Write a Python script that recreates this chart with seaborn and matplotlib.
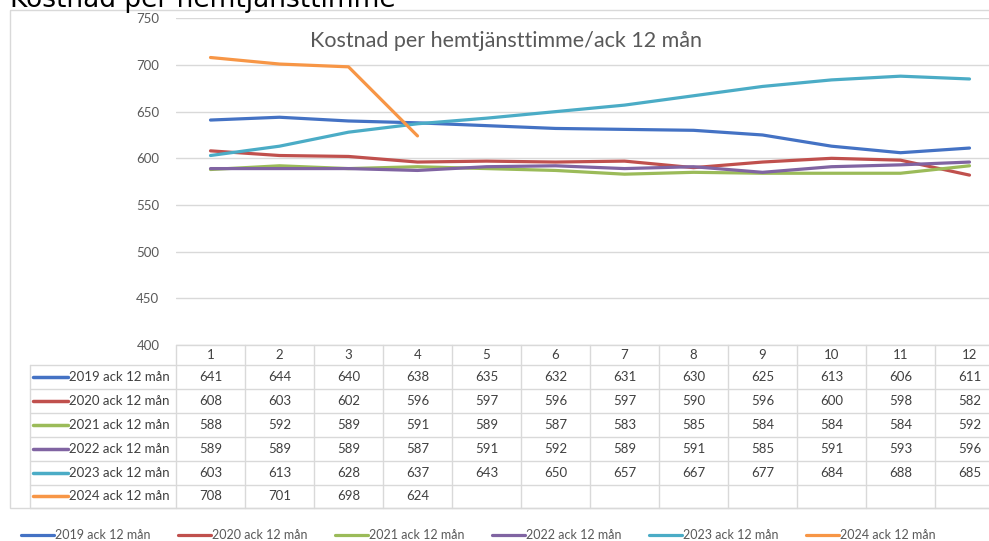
import numpy as np
import pandas as pd
import matplotlib
matplotlib.use('Agg')
import matplotlib.pyplot as plt
import seaborn as sns

# ========================================
# Data (läst från tabellen i diagrammet)
# ========================================
months = list(range(1, 13))
series_names = ['2019 ack 12 mån', '2020 ack 12 mån', '2021 ack 12 mån',
                '2022 ack 12 mån', '2023 ack 12 mån', '2024 ack 12 mån']
v2019 = [641, 644, 640, 638, 635, 632, 631, 630, 625, 613, 606, 611]
v2020 = [608, 603, 602, 596, 597, 596, 597, 590, 596, 600, 598, 582]
v2021 = [588, 592, 589, 591, 589, 587, 583, 585, 584, 584, 584, 592]
v2022 = [589, 589, 589, 587, 591, 592, 589, 591, 585, 591, 593, 596]
v2023 = [603, 613, 628, 637, 643, 650, 657, 667, 677, 684, 688, 685]
v2024 = [708, 701, 698, 624]
all_values = [v2019, v2020, v2021, v2022, v2023, v2024]
colors = ['#4472C4', '#C0504D', '#9BBB59', '#8064A2', '#4BACC6', '#F79646']
y_ticks = [400, 450, 500, 550, 600, 650, 700, 750]

rows = []
for name, vals in zip(series_names, all_values):
    for m, v in zip(months, vals):
        rows.append({'month': m, 'value': v, 'serie': name})
df = pd.DataFrame(rows)

# ========================================
# Figur
# ========================================
sns.set_style('white')
plt.rcParams['font.family'] = ['Lato', 'DejaVu Sans']

W, H = 989, 541
fig = plt.figure(figsize=(W / 100, H / 100), dpi=100)

def fx(x):
    return x / W

def fy(y):
    return 1 - y / H

# bakgrundslager i pixelkoordinater (ram + tabell)
bg = fig.add_axes([0, 0, 1, 1], zorder=0)
bg.set_xlim(0, W)
bg.set_ylim(H, 0)
bg.axis('off')

# diagramram
bg.add_patch(plt.Rectangle((10, 10), 1000, 498, fill=False, edgecolor='#d9d9d9', linewidth=1))

# huvudaxel
left_px, right_px = 176, 1004
top_px, bot_px = 18.3, 345
ax = fig.add_axes([fx(left_px), fy(bot_px), (right_px - left_px) / W, (bot_px - top_px) / H], zorder=1)
ax.set_facecolor('none')

sns.lineplot(data=df, x='month', y='value', hue='serie', palette=dict(zip(series_names, colors)),
             linewidth=2.3, ax=ax, sort=False)
handles, labels = ax.get_legend_handles_labels()
ax.get_legend().remove()

ax.set_xlim(0.5, 12.5)
ax.set_ylim(400, 750)
ax.set_yticks(y_ticks)
ax.set_xticks([])
ax.set_xlabel('')
ax.set_ylabel('')
ax.grid(axis='y', color='#d9d9d9', linewidth=1)
ax.set_axisbelow(True)
for s in ax.spines.values():
    s.set_visible(False)
ax.tick_params(axis='y', length=0, pad=12, labelsize=9.5, labelcolor='#595959')

ax.text(0.399, 0.93, 'Kostnad per hemtjänsttimme/ack 12 mån', transform=ax.transAxes,
        ha='center', va='center', fontsize=15.5, color='#595959')

# ========================================
# Datatabell under diagrammet
# ========================================
grid_c = '#d9d9d9'
col_w = 69
row_edges = [345, 365, 389, 413, 437, 461, 484.5, 508]
col_edges = [left_px + col_w * k for k in range(13)]

# horisontella linjer
bg.plot([left_px, right_px], [row_edges[0], row_edges[0]], color=grid_c, lw=1)
for y in row_edges[1:]:
    bg.plot([30, right_px], [y, y], color=grid_c, lw=1)
# vertikala linjer
bg.plot([30, 30], [row_edges[1], row_edges[-1]], color=grid_c, lw=1)
for x in col_edges:
    bg.plot([x, x], [row_edges[0], row_edges[-1]], color=grid_c, lw=1)

txt_c = '#404040'
for i, m in enumerate(months):
    cx = left_px + col_w * (i + 0.5)
    bg.text(cx, (row_edges[0] + row_edges[1]) / 2, str(m), ha='center', va='center',
            fontsize=9.5, color=txt_c)
for r, (name, vals, c) in enumerate(zip(series_names, all_values, colors)):
    cy = (row_edges[r + 1] + row_edges[r + 2]) / 2
    bg.plot([33, 68], [cy, cy], color=c, lw=2.5, solid_capstyle='round')
    bg.text(69, cy, name, ha='left', va='center', fontsize=9.5, color=txt_c)
    for i, v in enumerate(vals):
        cx = left_px + col_w * (i + 0.5)
        bg.text(cx, cy, str(v), ha='center', va='center', fontsize=9.5, color=txt_c)

# avskuren rubrik överst (som i originalet)
fig.text(fx(10), fy(7), 'Kostnad per hemtjänsttimme', ha='left', va='baseline',
         fontsize=19, color='black', family=['DejaVu Sans'])

# förklaring längst ner
leg = fig.legend(handles, labels, loc='center left', bbox_to_anchor=(fx(21), fy(535)), ncol=6,
                 frameon=False, fontsize=9, handlelength=2.6, handletextpad=0.1,
                 columnspacing=2.22, borderaxespad=0, borderpad=0)
for t in leg.get_texts():
    t.set_color('#595959')

fig.savefig('out.png', dpi=100)
